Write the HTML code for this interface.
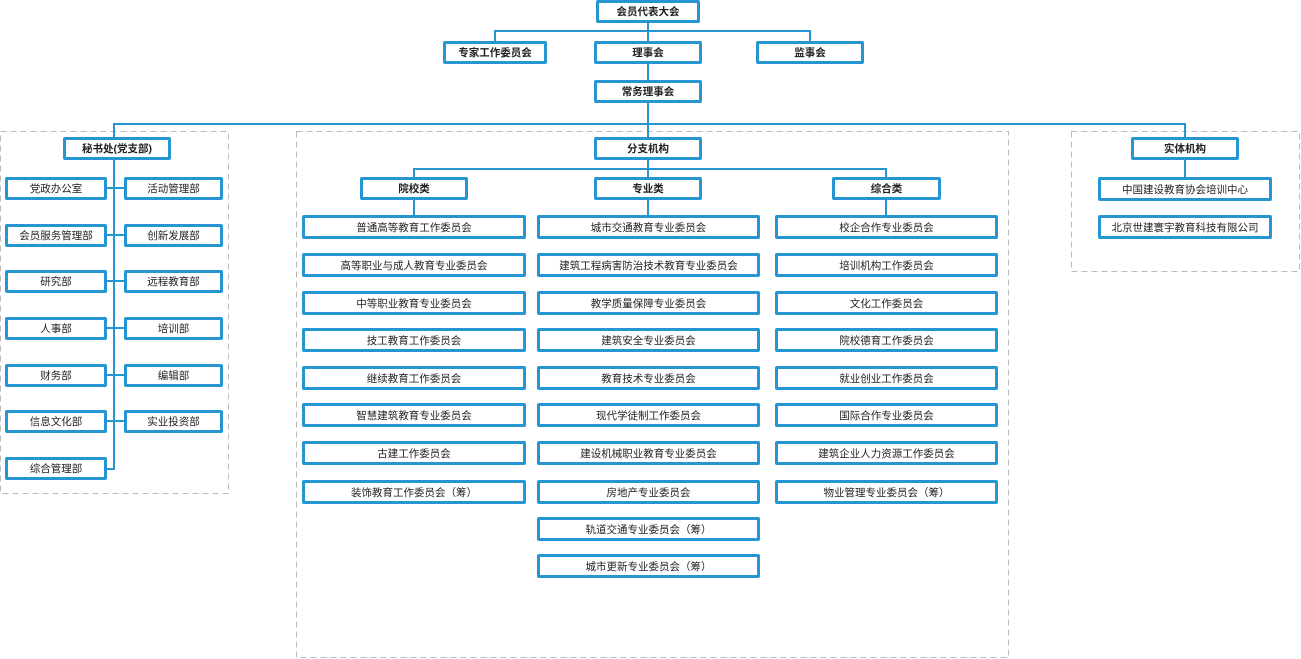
<!DOCTYPE html><html><head><meta charset="utf-8"><style>
body{margin:0;width:1301px;height:659px;background:#fff;position:relative;overflow:hidden;font-family:"Liberation Sans","Noto Sans CJK SC",sans-serif}
.b{position:absolute;box-sizing:border-box;border:3px solid #2596d3;border-radius:2px;background:#fff;font-size:10.5px;color:#222;text-align:center;display:flex;align-items:center;justify-content:center;white-space:nowrap}
.t{font-weight:bold}
.h{position:absolute;height:2px;background:#2596d3}
.v{position:absolute;width:2px;background:#2596d3}
</style></head><body>
<svg style="position:absolute;left:0;top:0" width="1301" height="659"><g fill="none" stroke="#bbb" stroke-width="1" stroke-dasharray="6,4">
<rect x="0.5" y="131.5" width="228" height="362"/>
<rect x="296.5" y="131.5" width="712" height="526"/>
<rect x="1071.5" y="131.5" width="228" height="140"/>
</g></svg>

<div class="v" style="left:647px;top:20px;height:105px"></div>
<div class="h" style="left:494px;top:30px;width:317px"></div>
<div class="v" style="left:494px;top:30px;height:12px"></div>
<div class="v" style="left:809px;top:30px;height:12px"></div>
<div class="h" style="left:113px;top:123px;width:1073px"></div>
<div class="v" style="left:113px;top:123px;height:15px"></div>
<div class="v" style="left:1184px;top:123px;height:15px"></div>
<div class="v" style="left:647px;top:123px;height:15px"></div>

<div class="b t" style="left:596px;top:0;width:104px;height:23px">会员代表大会</div>
<div class="b t" style="left:443px;top:41px;width:104px;height:23px">专家工作委员会</div>
<div class="b t" style="left:594px;top:41px;width:108px;height:23px">理事会</div>
<div class="b t" style="left:756px;top:41px;width:108px;height:23px">监事会</div>
<div class="b t" style="left:594px;top:80px;width:108px;height:23px">常务理事会</div>

<div class="v" style="left:113px;top:158px;height:312px"></div>
<div class="h" style="left:104px;top:468px;width:11px"></div>
<div class="b t" style="left:63px;top:137px;width:108px;height:23px">秘书处(党支部)</div>
<div class="h" style="left:104px;top:187px;width:22px"></div>
<div class="h" style="left:104px;top:234px;width:22px"></div>
<div class="h" style="left:104px;top:280px;width:22px"></div>
<div class="h" style="left:104px;top:327px;width:22px"></div>
<div class="h" style="left:104px;top:374px;width:22px"></div>
<div class="h" style="left:104px;top:420px;width:22px"></div>
<div class="b" style="left:5px;top:177px;width:102px;height:23px">党政办公室</div>
<div class="b" style="left:124px;top:177px;width:99px;height:23px">活动管理部</div>
<div class="b" style="left:5px;top:224px;width:102px;height:23px">会员服务管理部</div>
<div class="b" style="left:124px;top:224px;width:99px;height:23px">创新发展部</div>
<div class="b" style="left:5px;top:270px;width:102px;height:23px">研究部</div>
<div class="b" style="left:124px;top:270px;width:99px;height:23px">远程教育部</div>
<div class="b" style="left:5px;top:317px;width:102px;height:23px">人事部</div>
<div class="b" style="left:124px;top:317px;width:99px;height:23px">培训部</div>
<div class="b" style="left:5px;top:364px;width:102px;height:23px">财务部</div>
<div class="b" style="left:124px;top:364px;width:99px;height:23px">编辑部</div>
<div class="b" style="left:5px;top:410px;width:102px;height:23px">信息文化部</div>
<div class="b" style="left:124px;top:410px;width:99px;height:23px">实业投资部</div>
<div class="b" style="left:5px;top:457px;width:102px;height:23px">综合管理部</div>

<div class="v" style="left:647px;top:158px;height:60px"></div>
<div class="h" style="left:413px;top:168px;width:474px"></div>
<div class="v" style="left:413px;top:168px;height:50px"></div>
<div class="v" style="left:885px;top:168px;height:50px"></div>
<div class="b t" style="left:594px;top:137px;width:108px;height:23px">分支机构</div>
<div class="b t" style="left:360px;top:177px;width:108px;height:23px">院校类</div>
<div class="b t" style="left:594px;top:177px;width:108px;height:23px">专业类</div>
<div class="b t" style="left:832px;top:177px;width:109px;height:23px">综合类</div>

<div class="b" style="left:302px;top:215px;width:224px;height:24px">普通高等教育工作委员会</div>
<div class="b" style="left:302px;top:253px;width:224px;height:24px">高等职业与成人教育专业委员会</div>
<div class="b" style="left:302px;top:291px;width:224px;height:24px">中等职业教育专业委员会</div>
<div class="b" style="left:302px;top:328px;width:224px;height:24px">技工教育工作委员会</div>
<div class="b" style="left:302px;top:366px;width:224px;height:24px">继续教育工作委员会</div>
<div class="b" style="left:302px;top:403px;width:224px;height:24px">智慧建筑教育专业委员会</div>
<div class="b" style="left:302px;top:441px;width:224px;height:24px">古建工作委员会</div>
<div class="b" style="left:302px;top:480px;width:224px;height:24px">装饰教育工作委员会（筹）</div>

<div class="b" style="left:537px;top:215px;width:223px;height:24px">城市交通教育专业委员会</div>
<div class="b" style="left:537px;top:253px;width:223px;height:24px">建筑工程病害防治技术教育专业委员会</div>
<div class="b" style="left:537px;top:291px;width:223px;height:24px">教学质量保障专业委员会</div>
<div class="b" style="left:537px;top:328px;width:223px;height:24px">建筑安全专业委员会</div>
<div class="b" style="left:537px;top:366px;width:223px;height:24px">教育技术专业委员会</div>
<div class="b" style="left:537px;top:403px;width:223px;height:24px">现代学徒制工作委员会</div>
<div class="b" style="left:537px;top:441px;width:223px;height:24px">建设机械职业教育专业委员会</div>
<div class="b" style="left:537px;top:480px;width:223px;height:24px">房地产专业委员会</div>
<div class="b" style="left:537px;top:517px;width:223px;height:24px">轨道交通专业委员会（筹）</div>
<div class="b" style="left:537px;top:554px;width:223px;height:24px">城市更新专业委员会（筹）</div>

<div class="b" style="left:775px;top:215px;width:223px;height:24px">校企合作专业委员会</div>
<div class="b" style="left:775px;top:253px;width:223px;height:24px">培训机构工作委员会</div>
<div class="b" style="left:775px;top:291px;width:223px;height:24px">文化工作委员会</div>
<div class="b" style="left:775px;top:328px;width:223px;height:24px">院校德育工作委员会</div>
<div class="b" style="left:775px;top:366px;width:223px;height:24px">就业创业工作委员会</div>
<div class="b" style="left:775px;top:403px;width:223px;height:24px">国际合作专业委员会</div>
<div class="b" style="left:775px;top:441px;width:223px;height:24px">建筑企业人力资源工作委员会</div>
<div class="b" style="left:775px;top:480px;width:223px;height:24px">物业管理专业委员会（筹）</div>

<div class="v" style="left:1184px;top:158px;height:20px"></div>
<div class="b t" style="left:1131px;top:137px;width:108px;height:23px">实体机构</div>
<div class="b" style="left:1098px;top:177px;width:174px;height:24px">中国建设教育协会培训中心</div>
<div class="b" style="left:1098px;top:215px;width:174px;height:24px">北京世建寰宇教育科技有限公司</div>
</body></html>
